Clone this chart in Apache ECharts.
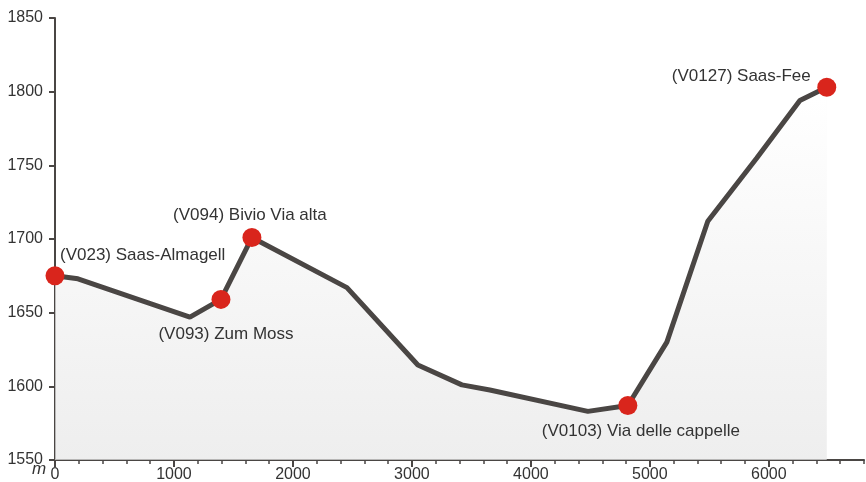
<!DOCTYPE html>
<html><head><meta charset="utf-8">
<script src="https://cdn.jsdelivr.net/npm/echarts@6/dist/echarts.min.js"></script>
<style>html,body{margin:0;padding:0;background:#fff}#c{width:866px;height:482px}</style>
</head><body><div id="c"></div>
<script>
const distance = [0, 193, 1134, 1395, 1655, 2454, 3050, 3420, 3655, 4479, 4815, 5143, 5487, 5899, 6261, 6487];
const elevation = [1675, 1673, 1647, 1659, 1701, 1667, 1614.5, 1601, 1597.5, 1583, 1587, 1630, 1712, 1755, 1794, 1803];
const stopNames = ["(V023) Saas-Almagell", "(V093) Zum Moss", "(V094) Bivio Via alta", "(V0103) Via delle cappelle", "(V0127) Saas-Fee"];
const stopIndex = [0, 3, 4, 10, 15];
const xLabels = [0, 1000, 2000, 3000, 4000, 5000, 6000];

const labelPos = [
  {align: 'left', offset: [5, -21]},
  {align: 'center', offset: [5, 35]},
  {align: 'center', offset: [-2, -22]},
  {align: 'center', offset: [13, 26]},
  {align: 'right', offset: [-16, -11]}
];

const font = '"Liberation Sans", Arial, sans-serif';
const chart = echarts.init(document.getElementById('c'));
const stops = stopIndex.map((i, k) => ({
  value: [distance[i], elevation[i]],
  name: stopNames[k],
  label: {
    show: true, position: 'inside', formatter: stopNames[k],
    align: labelPos[k].align, verticalAlign: 'middle', offset: labelPos[k].offset,
    color: '#333', fontSize: 17, fontFamily: font
  }
}));

chart.setOption({
  animation: false,
  grid: {left: 55, right: 2, top: 18, bottom: 22, outerBoundsMode: 'none', containLabel: false},
  xAxis: [{
    type: 'value', min: 0, max: 6800, interval: 200,
    axisLine: {show: true, lineStyle: {color: '#4a4644', width: 2}},
    axisTick: {show: true, length: 4, lineStyle: {color: '#4a4644', width: 1.5}},
    axisLabel: {show: false},
    splitLine: {show: false}
  }, {
    type: 'value', min: 0, max: 6800, position: 'bottom',
    axisLine: {show: false},
    axisTick: {show: true, length: 7, customValues: xLabels, lineStyle: {color: '#4a4644', width: 2}},
    axisLabel: {show: true, customValues: xLabels, formatter: v => String(v), color: '#333', fontSize: 16, fontFamily: font, margin: 7},
    splitLine: {show: false}
  }],
  yAxis: {
    type: 'value', min: 1550, max: 1850, interval: 50,
    axisLine: {show: true, lineStyle: {color: '#4a4644', width: 2}},
    axisTick: {show: true, length: 6, lineStyle: {color: '#4a4644', width: 2}},
    axisLabel: {formatter: v => String(v), color: '#333', fontSize: 16, fontFamily: font, margin: 12},
    splitLine: {show: false}
  },
  graphic: [{
    type: 'text', left: 32, top: 461,
    style: {text: 'm', font: 'italic 17px ' + font, fill: '#333'}
  }],
  series: [{
    type: 'line', xAxisIndex: 0,
    data: distance.map((d, i) => [d, elevation[i]]),
    symbol: 'none',
    lineStyle: {color: '#4a4644', width: 5},
    areaStyle: {
      origin: 'start',
      color: new echarts.graphic.LinearGradient(0, 0, 0, 1, [
        {offset: 0, color: '#ffffff'}, {offset: 1, color: '#e6e6e6'}
      ])
    },
    z: 2
  }, {
    type: 'scatter', xAxisIndex: 0,
    data: stops,
    symbolSize: 19,
    itemStyle: {color: '#d9251c', opacity: 1},
    z: 3
  }]
});
</script></body></html>
